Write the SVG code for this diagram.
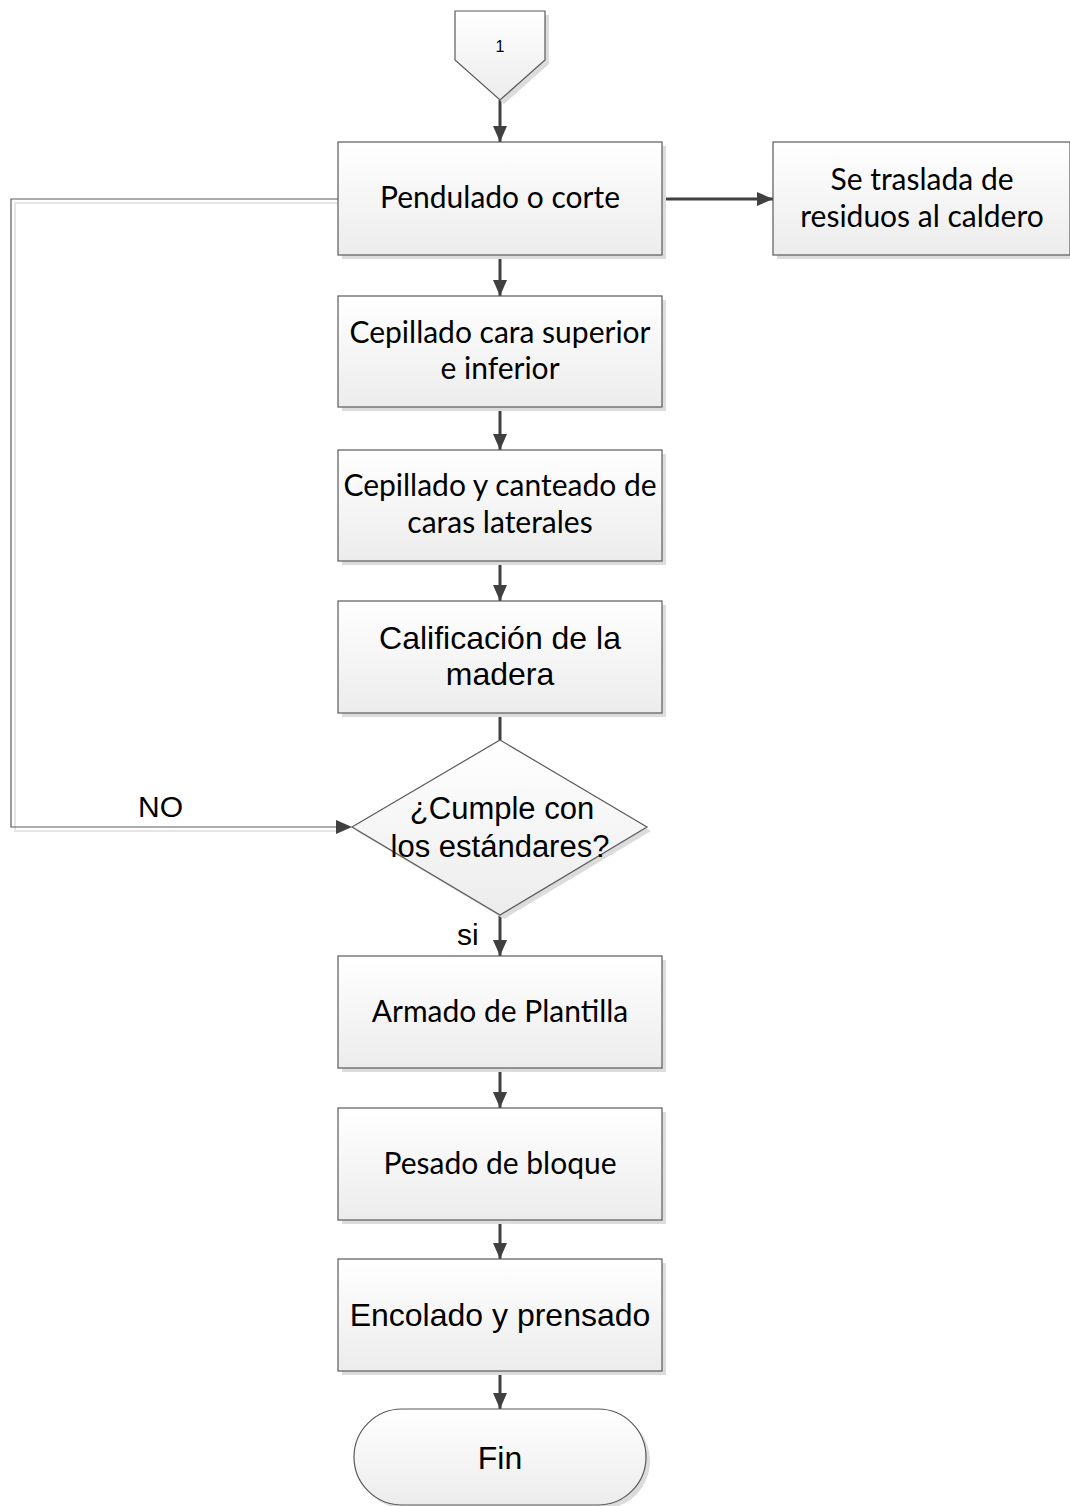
<svg xmlns="http://www.w3.org/2000/svg" width="1070" height="1506" viewBox="0 0 1070 1506">
  <defs>
    <linearGradient id="fillGrad" x1="0" y1="0" x2="0" y2="1">
      <stop offset="0" stop-color="#ffffff"/>
      <stop offset="1" stop-color="#ececec"/>
    </linearGradient>
    <marker id="arrow" viewBox="0 0 16 14" refX="16" refY="7" markerWidth="16" markerHeight="14" markerUnits="userSpaceOnUse" orient="auto">
      <path d="M0,0 L16,7 L0,14 z" fill="#404040"/>
    </marker>
  </defs>
  <style>
    .shape { fill: url(#fillGrad); stroke: #5a5a5a; stroke-width: 1.2; }
    .shadow { fill: #dcdcdc; stroke: none; }
    .wire { fill: none; stroke: #404040; stroke-width: 3; }
    .loop { fill: none; stroke: #5a5a5a; stroke-width: 1.2; }
    .loopShadow { fill: none; stroke: #e6e6e6; stroke-width: 2; }
    .cal { font-family: Lato, "Open Sans", sans-serif; font-size: 30px; fill: #000; text-anchor: middle; }
    .ari { font-family: "Liberation Sans", Arial, sans-serif; font-size: 32px; fill: #000; text-anchor: middle; }
    .dia { font-family: "Liberation Sans", Arial, sans-serif; font-size: 31px; fill: #000; text-anchor: middle; }
    .lbl { font-family: "Liberation Sans", Arial, sans-serif; font-size: 30px; fill: #000; }
  </style>

  <!-- connectors -->
  <g id="connectors">
    <path class="loopShadow" d="M338,203 H15 V831 H340"/>
    <path class="loop" d="M338,199 H11 V827 H340"/>
    <path d="M352,827 L336,820 L336,834 z" fill="#404040"/>
    <line class="wire" x1="500" y1="100" x2="500" y2="142" marker-end="url(#arrow)"/>
    <line class="wire" x1="662" y1="199" x2="773" y2="199" marker-end="url(#arrow)"/>
    <line class="wire" x1="500" y1="255" x2="500" y2="296" marker-end="url(#arrow)"/>
    <line class="wire" x1="500" y1="407" x2="500" y2="450" marker-end="url(#arrow)"/>
    <line class="wire" x1="500" y1="561" x2="500" y2="601" marker-end="url(#arrow)"/>
    <line class="wire" x1="500" y1="713" x2="500" y2="740"/>
    <line class="wire" x1="500" y1="915" x2="500" y2="956" marker-end="url(#arrow)"/>
    <line class="wire" x1="500" y1="1068" x2="500" y2="1108" marker-end="url(#arrow)"/>
    <line class="wire" x1="500" y1="1220" x2="500" y2="1259" marker-end="url(#arrow)"/>
    <line class="wire" x1="500" y1="1371" x2="500" y2="1409" marker-end="url(#arrow)"/>
    <text class="lbl" x="138" y="817">NO</text>
    <text class="lbl" x="457" y="945">si</text>
  </g>

  <!-- off-page connector -->
  <g id="node-start">
    <path class="shadow" d="M460,15 H549 V64 L504,104 L459,64 z"/>
    <path class="shape" d="M455,11 H545 V60 L500,100 L455,60 z"/>
    <text x="500" y="52" font-family="Liberation Sans, Arial, sans-serif" font-size="16" text-anchor="middle">1</text>
  </g>

  <g id="node-pendulado">
    <rect class="shadow" x="342" y="146" width="324" height="113"/>
    <rect class="shape" x="338" y="142" width="324" height="113"/>
    <text class="cal" x="500" y="208">Pendulado o corte</text>
  </g>

  <g id="node-residuos">
    <rect class="shadow" x="777" y="146" width="297" height="113"/>
    <rect class="shape" x="773" y="142" width="297" height="113"/>
    <text class="cal" x="922" y="190">Se traslada de</text>
    <text class="cal" x="922" y="227">residuos al caldero</text>
  </g>

  <g id="node-cepillado-caras">
    <rect class="shadow" x="342" y="300" width="324" height="111"/>
    <rect class="shape" x="338" y="296" width="324" height="111"/>
    <text class="cal" x="500" y="343">Cepillado cara superior</text>
    <text class="cal" x="500" y="379">e inferior</text>
  </g>

  <g id="node-cepillado-laterales">
    <rect class="shadow" x="342" y="454" width="324" height="111"/>
    <rect class="shape" x="338" y="450" width="324" height="111"/>
    <text class="cal" x="500" y="496">Cepillado y canteado de</text>
    <text class="cal" x="500" y="533">caras laterales</text>
  </g>

  <g id="node-calificacion">
    <rect class="shadow" x="342" y="605" width="324" height="112"/>
    <rect class="shape" x="338" y="601" width="324" height="112"/>
    <text class="ari" x="500" y="649">Calificación de la</text>
    <text class="ari" x="500" y="685">madera</text>
  </g>

  <g id="node-decision">
    <path class="shadow" d="M504,744 L651,831 L504,919 L356,831 z"/>
    <path class="shape" d="M500,740 L647,827 L500,915 L352,827 z"/>
    <text class="dia" x="502" y="819">¿Cumple con</text>
    <text class="dia" x="500" y="857">los estándares?</text>
  </g>

  <g id="node-armado">
    <rect class="shadow" x="342" y="960" width="324" height="112"/>
    <rect class="shape" x="338" y="956" width="324" height="112"/>
    <text class="cal" x="500" y="1022">Armado de Plantilla</text>
  </g>

  <g id="node-pesado">
    <rect class="shadow" x="342" y="1112" width="324" height="112"/>
    <rect class="shape" x="338" y="1108" width="324" height="112"/>
    <text class="cal" x="500" y="1174">Pesado de bloque</text>
  </g>

  <g id="node-encolado">
    <rect class="shadow" x="342" y="1263" width="324" height="112"/>
    <rect class="shape" x="338" y="1259" width="324" height="112"/>
    <text class="ari" x="500" y="1326">Encolado y prensado</text>
  </g>

  <g id="node-fin">
    <rect class="shadow" x="358" y="1413" width="292" height="96" rx="48" ry="48"/>
    <rect class="shape" x="354" y="1409" width="292" height="96" rx="48" ry="48"/>
    <text class="ari" x="500" y="1469">Fin</text>
  </g>
</svg>
